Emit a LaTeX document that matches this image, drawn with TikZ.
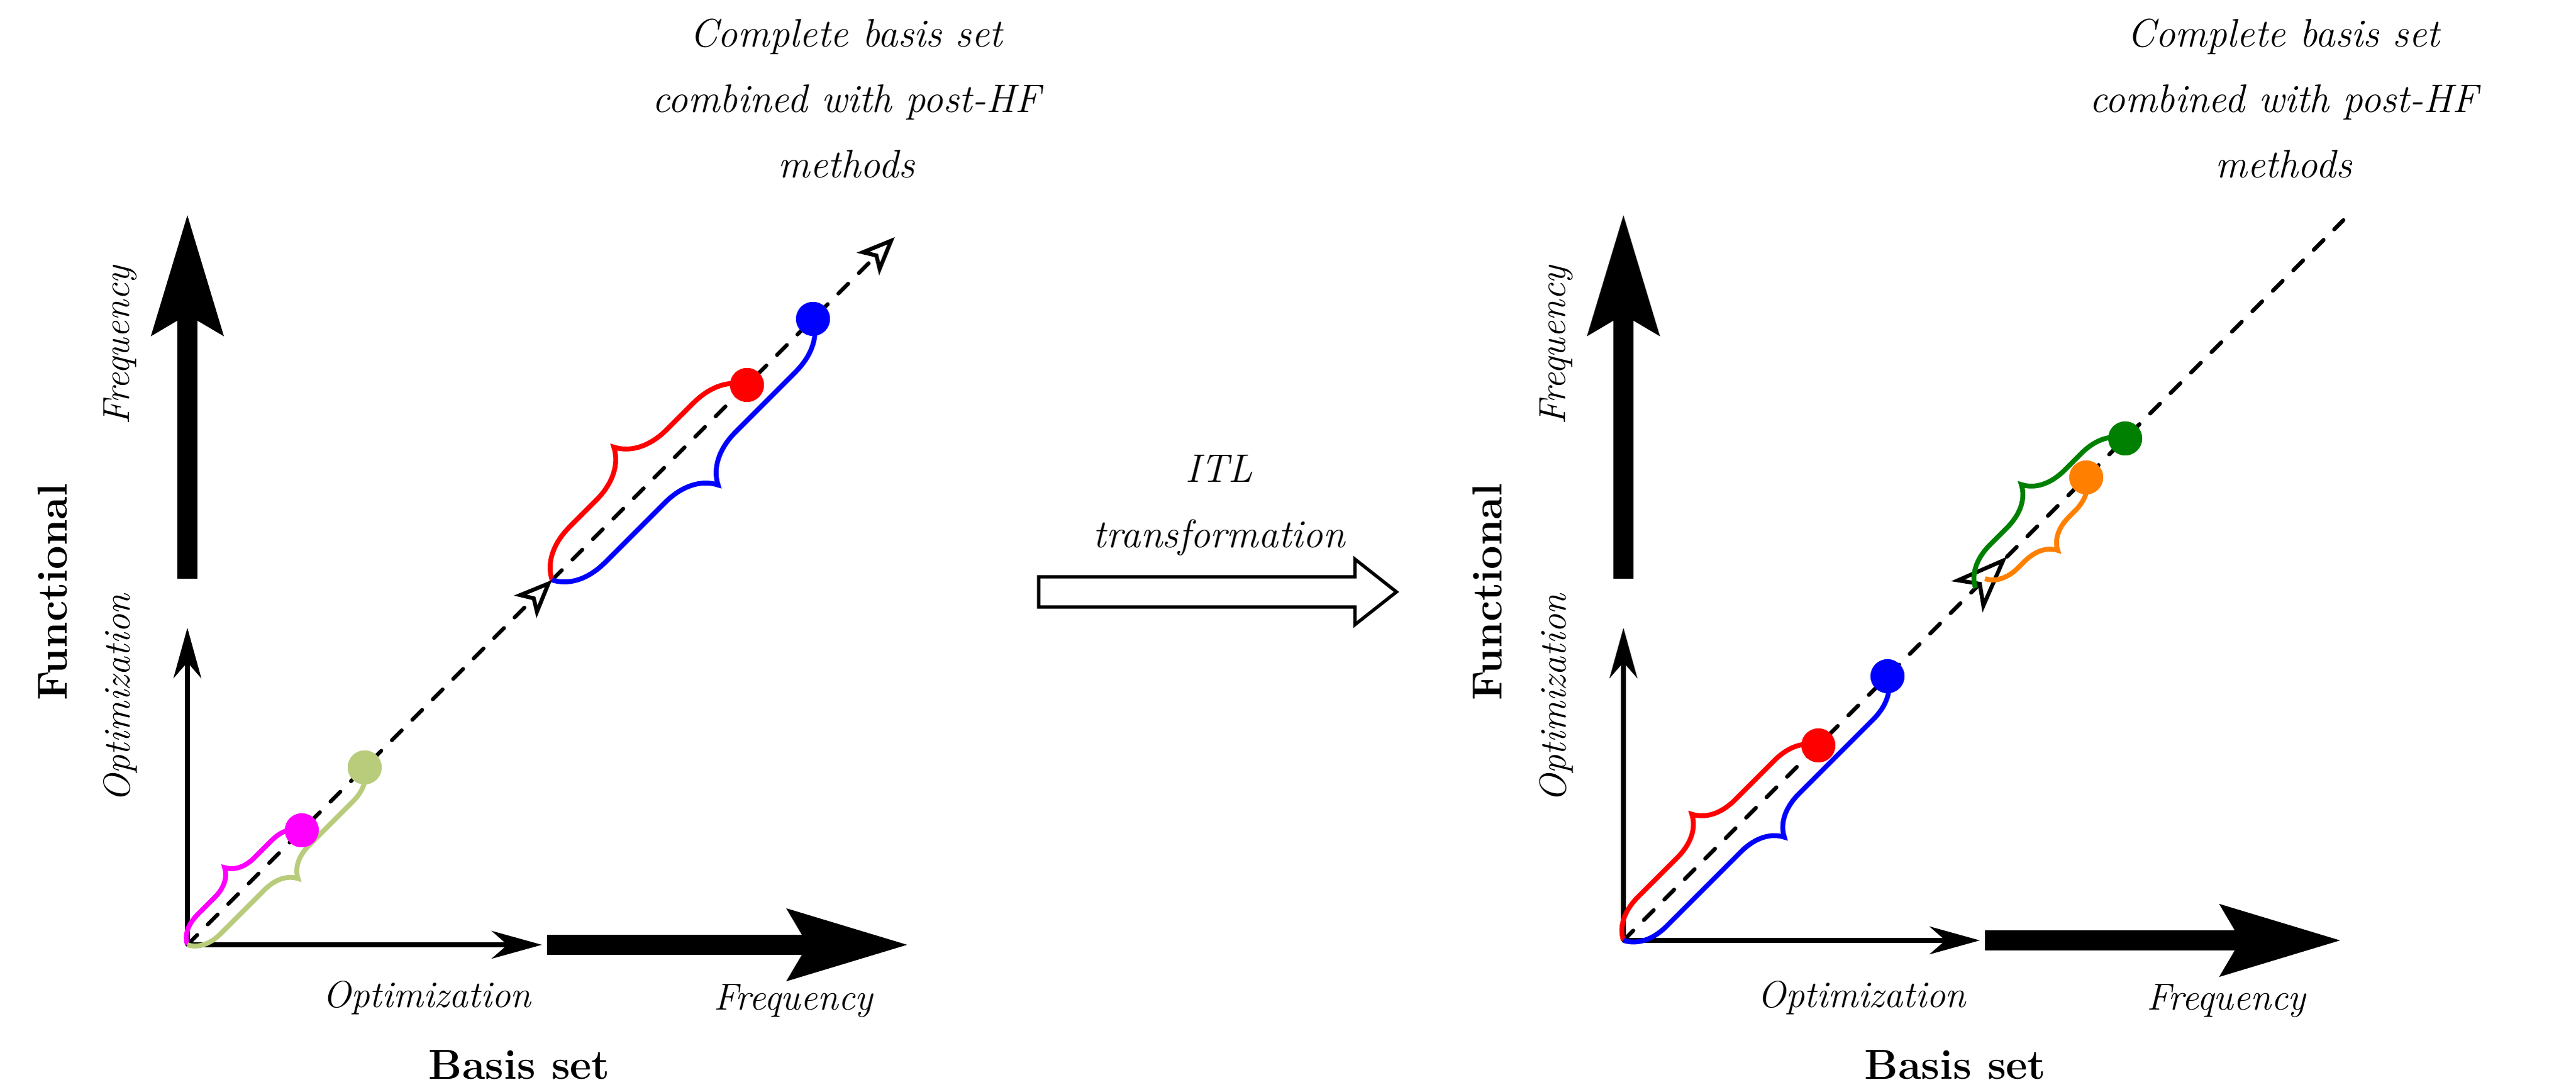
\documentclass[tikz,border=0pt]{standalone}
\usepackage{tikz}
\usetikzlibrary{positioning,calc,arrows.meta,decorations.pathreplacing}
\definecolor{pinkc}{HTML}{FF00FF}
\definecolor{olive}{HTML}{B8CC7C}
\definecolor{darkgreen}{HTML}{008000}
\definecolor{orangec}{HTML}{FF8000}

\begin{document}
\begin{tikzpicture}[dotnode/.style={circle, fill=#1, inner sep=0pt, minimum size=5.4mm},
    axisline/.style={line width=2.3pt, -{Stealth[length=8mm, width=4.4mm, inset=2.5mm]}},
    bigarrow/.style={line width=3.2mm, -{Stealth[length=19mm, width=11mm, inset=3mm]}},
    diag/.style={line width=1.8pt, line cap=round, dash pattern=on 2.2mm off 2.4mm},
    bracel/.style={draw=#1, line width=2.2pt, decorate, decoration={brace, amplitude=8mm}},
    bracer/.style={draw=#1, line width=2.2pt, decorate, decoration={brace, mirror, amplitude=8mm}},
    smalltext/.style={font=\fontsize{17}{20}\selectfont\itshape},
    bigtext/.style={font=\fontsize{19}{22}\selectfont\bfseries},
    titletext/.style={font=\fontsize{18}{29.6}\selectfont\itshape, align=center}]

        \useasboundingbox (0,0) rectangle (40.97,17.35);

        % left panel
        \coordinate (o1) at (2.98,2.33);
        \coordinate (x1) at (8.62,2.33);
        \coordinate (y1) at (2.98,7.37);
        \draw[axisline] (o1) -- (x1);
        \draw[axisline] (o1) -- (y1);
        \draw[bigarrow] (8.70,2.33) -- (14.45,2.33);
        \draw[bigarrow] (2.98,8.15) -- (2.98,13.95);

        \coordinate (m1) at ($(o1)+(5.8,5.8)$);
        \coordinate (e1) at ($(o1)+(11.25,11.25)$);
        \draw[diag, -{Stealth[open, length=6mm, width=5mm, inset=1.5mm]}] (o1) -- (m1);
        \draw[diag, -{Stealth[open, length=6mm, width=5mm, inset=1.5mm]}] (m1) -- (e1);

        \node[dotnode=pinkc] (mag) at ($(o1)+(1.82,1.82)$) {};
        \node[dotnode=olive] (oli) at ($(o1)+(2.82,2.82)$) {};
        \node[dotnode=red] (red1) at ($(o1)+(8.9,8.9)$) {};
        \node[dotnode=blue] (blue1) at ($(o1)+(9.95,9.95)$) {};

        \draw[bracel=pinkc, decoration={amplitude=4.5mm}] (o1) -- (mag.center);
        \draw[bracer=olive, decoration={amplitude=5mm}] (o1) -- (oli.center);
        \draw[bracel=red] (m1) -- (red1.center);
        \draw[bracer=blue] (m1) -- (blue1.center);
        \node[dotnode=pinkc] at (mag) {};
        \node[dotnode=olive] at (oli) {};
        \node[dotnode=red] at (red1) {};
        \node[dotnode=blue] at (blue1) {};

        \node[smalltext] (opt1) at (6.79,1.49) {Optimization};
        \node[smalltext] (freq1) at (12.62,1.44) {Frequency};
        \node[bigtext] (basis1) at (8.26,0.42) {Basis set};
        \node[smalltext, rotate=90] (vopt1) at (1.91,6.25) {Optimization};
        \node[smalltext, rotate=90] (vfreq1) at (1.91,11.86) {Frequency};
        \node[bigtext, rotate=90] (func1) at (0.84,7.94) {Functional};
        \node[titletext] (title1) at (13.46,15.78) {Complete basis set\\combined with post-HF\\methods};

        % transformation arrow
        \draw[line width=1.5pt] (16.52,7.70) -- (21.55,7.70) -- (21.55,7.42) -- (22.21,7.94)
            -- (21.55,8.46) -- (21.55,8.18) -- (16.52,8.18) -- cycle;
        \node[titletext] (itl) at (19.39,9.32) {ITL\\transformation};

        % right panel
        \coordinate (o2) at (25.82,2.40);
        \coordinate (x2) at (31.49,2.40);
        \coordinate (y2) at (25.82,7.37);
        \draw[axisline] (o2) -- (x2);
        \draw[axisline] (o2) -- (y2);
        \draw[bigarrow] (31.57,2.40) -- (37.24,2.40);
        \draw[bigarrow] (25.82,8.15) -- (25.82,13.95);

        \coordinate (m2) at ($(o2)+(6.1,6.1)$);
        \coordinate (e2) at ($(o2)+(11.45,11.45)$);
        \draw[diag, -{Stealth[open, length=9mm, width=7mm, inset=2.5mm]}] (o2) -- (m2);
        \draw[diag] (m2) -- (e2);

        \node[dotnode=red] (red2) at ($(o2)+(3.1,3.1)$) {};
        \node[dotnode=blue] (blue2) at ($(o2)+(4.2,4.2)$) {};
        \node[dotnode=orangec] (ora2) at ($(o2)+(7.36,7.36)$) {};
        \node[dotnode=darkgreen] (gre2) at ($(o2)+(7.98,7.98)$) {};
        \coordinate (sg) at ($(o2)+(5.6,5.6)$);
        \coordinate (so) at ($(o2)+(5.75,5.75)$);

        \draw[bracel=red, decoration={amplitude=6.5mm}] (o2) -- (red2.center);
        \draw[bracer=blue, decoration={amplitude=6.5mm}] (o2) -- (blue2.center);
        \draw[bracel=darkgreen, decoration={amplitude=6.5mm}] (sg) -- (gre2.center);
        \draw[bracer=orangec, decoration={amplitude=5mm}] (so) -- (ora2.center);
        \node[dotnode=red] at (red2) {};
        \node[dotnode=blue] at (blue2) {};
        \node[dotnode=orangec] at (ora2) {};
        \node[dotnode=darkgreen] at (gre2) {};

        \node[smalltext] (opt2) at (29.61,1.49) {Optimization};
        \node[smalltext] (freq2) at (35.41,1.44) {Frequency};
        \node[bigtext] (basis2) at (31.10,0.42) {Basis set};
        \node[smalltext, rotate=90] (vopt2) at (24.75,6.25) {Optimization};
        \node[smalltext, rotate=90] (vfreq2) at (24.75,11.86) {Frequency};
        \node[bigtext, rotate=90] (func2) at (23.65,7.94) {Functional};
        \node[titletext] (title2) at (36.32,15.78) {Complete basis set\\combined with post-HF\\methods};

        \end{tikzpicture}
\end{document}
